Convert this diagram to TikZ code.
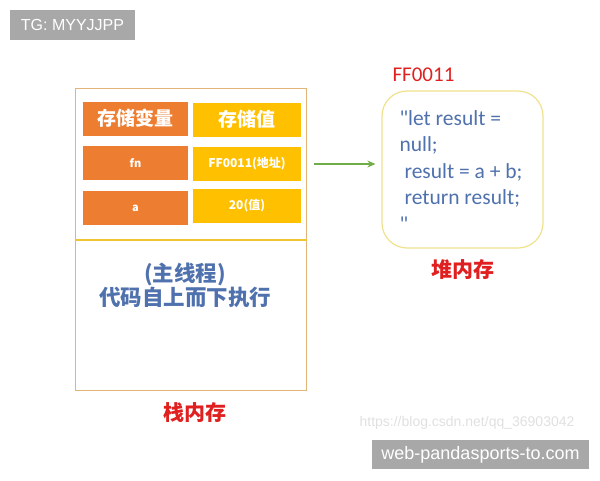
\documentclass[tikz,border=0pt]{standalone}
\usepackage{fontspec}
\setmainfont{Carlito}
\newfontfamily\codefont{Carlito}
\newfontfamily\cjk{Noto Sans CJK SC}
\newfontfamily\helv{Liberation Sans}
\usetikzlibrary{arrows.meta, positioning}
\definecolor{Orange}{RGB}{237, 125, 49}
\definecolor{Gold}{RGB}{255, 192, 0}
\definecolor{TextBlue}{RGB}{79, 113, 173}
\definecolor{RedLabel}{RGB}{224, 32, 32}
\definecolor{Frame}{RGB}{226, 180, 120}
\definecolor{Divider}{RGB}{240, 196, 50}
\definecolor{HeapLine}{RGB}{240, 225, 140}
\definecolor{Arrow}{RGB}{112, 173, 71}
\definecolor{Tag}{RGB}{168, 168, 168}

\begin{document}
\begin{tikzpicture}[
    x=1pt, y=-1pt,
    >=Stealth,
    varcell/.style={
        fill=Orange, text=white, minimum width=105pt, minimum height=34pt,
        inner sep=0pt, font=\cjk\bfseries
    },
    valcell/.style={
        fill=Gold, text=white, minimum width=108pt, minimum height=34pt,
        inner sep=0pt, font=\cjk\bfseries
    },
    tagbox/.style={
        fill=Tag, text=white, inner sep=0pt
    },
    redlabel/.style={text=RedLabel, font=\cjk\bfseries\fontsize{21}{24}\selectfont},
    arr/.style={-{Stealth[length=8pt, width=7pt]}, line width=1.3pt, Arrow},
]
\useasboundingbox (0,0) rectangle (600,480);

%% tag boxes
\node[tagbox, minimum width=125pt, minimum height=30pt, font=\helv\fontsize{16}{18}\selectfont]
    (tag) at (72.5, 25) {TG: MYYJJPP};
\node[tagbox, minimum width=217pt, minimum height=29pt, font=\helv\fontsize{18}{20}\selectfont]
    (site) at (480.5, 454.5) {web-pandasports-to.com};
\node[text=black!12, font=\helv\fontsize{14}{16}\selectfont] (mark) at (467, 423)
    {https://blog.csdn.net/qq\_36903042};

%% stack memory
\node[draw=Frame, line width=1pt, minimum width=231pt, minimum height=302pt] (stack) at (190.5, 239) {};
\coordinate (divl) at (75, 240);
\draw[Divider, line width=1.5pt] (divl) -- (divl -| stack.east);

\node[varcell, font=\cjk\bfseries\fontsize{19}{21}\selectfont] (hvar) at (135.5, 118.5) {存储变量};
\node[valcell, font=\cjk\bfseries\fontsize{19}{21}\selectfont] (hval) at (247, 119.5) {存储值};
\node[varcell, font=\cjk\bfseries\fontsize{11}{13}\selectfont] (var1) at (135.5, 163) {fn};
\node[valcell, font=\cjk\bfseries\fontsize{12}{14}\selectfont] (val1) at (247, 164) {FF0011(地址)};
\node[varcell, font=\cjk\bfseries\fontsize{11}{13}\selectfont] (var2) at (135.5, 208) {a};
\node[valcell, font=\cjk\bfseries\fontsize{12}{14}\selectfont] (val2) at (247, 206) {20(值)};

\node[text=TextBlue, font=\cjk\bfseries\fontsize{21.5}{24}\selectfont, align=center] (main) at (185, 285)
    {(主线程)\\代码自上而下执行};
\node[redlabel] (stacklbl) at (195, 413) {栈内存};

%% heap memory
\node[draw=HeapLine, line width=1.2pt, rounded corners=25pt,
      minimum width=161pt, minimum height=157pt] (heap) at (462.5, 169.5) {};
\node[text=TextBlue, font=\codefont\fontsize{21.5}{26.5}\selectfont, align=left, anchor=north west]
    (code) at (396, 107)
    {"let result =\\null;\\\hspace{5pt}result = a + b;\\\hspace{5pt}return result;\\"};
\node[text=RedLabel, font=\codefont\fontsize{21}{24}\selectfont, anchor=west] (addr) at (389, 75) {FF0011};
\node[redlabel] (heaplbl) at (463, 270) {堆内存};

\draw[arr, shorten <=7pt, shorten >=6pt] (stack.east |- val1) -- (heap.west |- val1);
\end{tikzpicture}
\end{document}
